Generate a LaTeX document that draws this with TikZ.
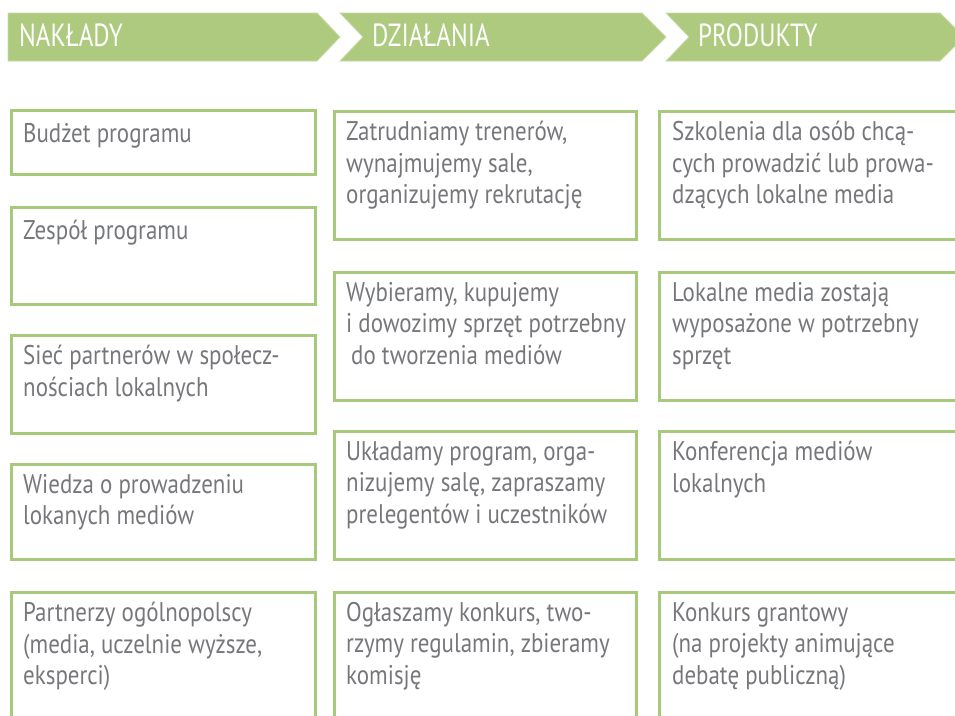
\documentclass[tikz,border=0pt]{standalone}
\usepackage{fontspec}
\setmainfont{PT Sans}[FakeStretch=0.85]
\newfontfamily\headfont{PT Sans}[FakeStretch=0.78]
\usetikzlibrary{positioning}

\definecolor{leaf}{HTML}{AECA7F}
\definecolor{leafline}{HTML}{A8C97A}
\definecolor{inkgray}{HTML}{76777A}

\tikzset{
  banner/.style={fill=leaf, draw=leaf!70!white, line width=0.8},
  bannertext/.style={text=white, font=\headfont\fontsize{32}{36}\selectfont, anchor=base west, inner sep=0},
  cell/.style={draw=leafline, line width=2.6, anchor=north west, minimum width=304, inner sep=0},
  celltext/.style={text=inkgray, font=\fontsize{27}{31.5}\selectfont, align=left, inner sep=0,
    execute at begin node=\strut},
}

\begin{document}
\begin{tikzpicture}[x=1pt, y=-1pt]
\useasboundingbox (0,0) rectangle (955,715);
\clip (0,0) rectangle (955,715);
% headers
\draw[banner] (8,13) -- (317,13) -- (340,37) -- (317,61) -- (8,61) -- cycle;
\draw[banner] (340,13) -- (642,13) -- (666,37) -- (642,61) -- (340,61) -- (363,37) -- cycle;
\draw[banner] (666,13) -- (940,13) -- (964,37) -- (940,61) -- (666,61) -- (689,37) -- cycle;
\node[bannertext] (naklady) at (19,46) {NAKŁADY};
\node[bannertext] (dzialania) at (372,46) {DZIAŁANIA};
\node[bannertext] (produkty) at (698,46) {PRODUKTY};
% inputs
\node[cell, minimum height=64] (in1) at (10,109) {};
\node[celltext, below right=11pt and 13pt of in1.north west] (in1t) {Budżet programu};
\node[cell, minimum height=97] (in2) at (10,206) {};
\node[celltext, below right=11pt and 13pt of in2.north west] (in2t) {Zespół programu};
\node[cell, minimum height=98] (in3) at (10,334) {};
\node[celltext, below right=11pt and 13pt of in3.north west] (in3t) {Sieć partnerów w społecz-\\nościach lokalnych};
\node[cell, minimum height=95] (in4) at (10,463) {};
\node[celltext, below right=11pt and 13pt of in4.north west] (in4t) {Wiedza o prowadzeniu\\lokanych mediów};
\node[cell, minimum height=128] (in5) at (10,591) {};
\node[celltext, below right=11pt and 13pt of in5.north west] (in5t) {Partnerzy ogólnopolscy\\(media, uczelnie wyższe,\\eksperci)};
% activities
\node[cell, minimum width=302, minimum height=128] (ac1) at (333,110) {};
\node[celltext, below right=11pt and 13pt of ac1.north west] (ac1t) {Zatrudniamy trenerów,\\wynajmujemy sale,\\organizujemy rekrutację};
\node[cell, minimum width=302, minimum height=128] (ac2) at (333,271) {};
\node[celltext, below right=11pt and 13pt of ac2.north west] (ac2t) {Wybieramy, kupujemy\\i dowozimy sprzęt potrzebny\\\hspace{5pt}do tworzenia mediów};
\node[cell, minimum width=302, minimum height=128] (ac3) at (333,430) {};
\node[celltext, below right=11pt and 13pt of ac3.north west] (ac3t) {Układamy program, orga-\\nizujemy salę, zapraszamy\\prelegentów i uczestników};
\node[cell, minimum width=302, minimum height=128] (ac4) at (333,591) {};
\node[celltext, below right=11pt and 13pt of ac4.north west] (ac4t) {Ogłaszamy konkurs, two-\\rzymy regulamin, zbieramy\\komisję};
% products
\node[cell, minimum height=128] (pr1) at (658,110) {};
\node[celltext, below right=11pt and 14pt of pr1.north west] (pr1t) {Szkolenia dla osób chcą-\\cych prowadzić lub prowa-\\dzących lokalne media};
\node[cell, minimum height=128] (pr2) at (658,271) {};
\node[celltext, below right=11pt and 14pt of pr2.north west] (pr2t) {Lokalne media zostają\\wyposażone w potrzebny\\sprzęt};
\node[cell, minimum height=128] (pr3) at (658,430) {};
\node[celltext, below right=11pt and 14pt of pr3.north west] (pr3t) {Konferencja mediów\\lokalnych};
\node[cell, minimum height=128] (pr4) at (658,591) {};
\node[celltext, below right=11pt and 14pt of pr4.north west] (pr4t) {Konkurs grantowy\\(na projekty animujące\\debatę publiczną)};
\end{tikzpicture}
\end{document}
